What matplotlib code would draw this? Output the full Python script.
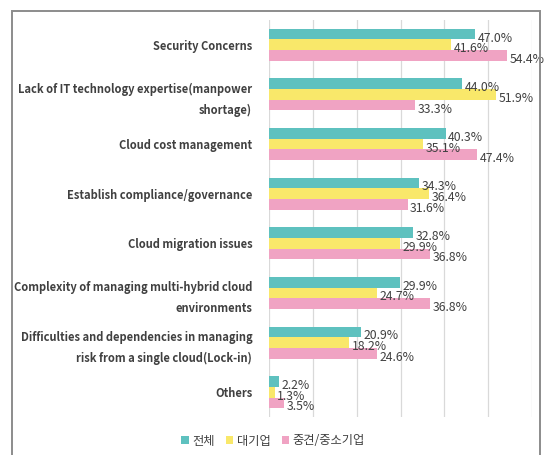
import matplotlib
matplotlib.use("Agg")
import matplotlib.pyplot as plt
import numpy as np
from matplotlib.patches import Rectangle

categories = [
    "Security Concerns",
    "Lack of IT technology expertise(manpower\nshortage)",
    "Cloud cost management",
    "Establish compliance/governance",
    "Cloud migration issues",
    "Complexity of managing multi-hybrid cloud\nenvironments",
    "Difficulties and dependencies in managing\nrisk from a single cloud(Lock-in)",
    "Others",
]
series_names = ["전체", "대기업", "중견/중소기업"]
total = [47.0, 44.0, 40.3, 34.3, 32.8, 29.9, 20.9, 2.2]
large = [41.6, 51.9, 35.1, 36.4, 29.9, 24.7, 18.2, 1.3]
sme = [54.4, 33.3, 47.4, 31.6, 36.8, 36.8, 24.6, 3.5]
colors = ["#5EC1BF", "#F9E86A", "#F0A3C3"]

plt.rcParams['font.family'] = ['Noto Sans CJK KR', 'DejaVu Sans']

fig = plt.figure(figsize=(5.46, 4.55), dpi=100)
ax = fig.add_axes([269/546, 1-417/455, (532-269)/546, (417-20)/455])

n = len(categories)
y = np.arange(n)
h = 0.215
for i, (vals, col) in enumerate(zip([total, large, sme], colors)):
    pos = y + (i - 1) * h
    ax.barh(pos, vals, height=h, color=col, label=series_names[i], zorder=3)
    for p, v in zip(pos, vals):
        ax.text(v + 0.6, p + 0.08, f"{v:.1f}%", va="center", ha="left",
                fontsize=8.8, color="#404040", zorder=4)

ax.set_xlim(0, 60)
ax.set_ylim(n - 0.5, -0.5)
ax.set_xticks(np.arange(0, 61, 10))
ax.set_xticklabels([])
ax.tick_params(axis="x", length=0)
ax.tick_params(axis="y", length=0, pad=12)
ax.set_yticks(y)
ax.set_yticklabels(categories, fontsize=8.0, fontweight="bold", color="#404040",
                   linespacing=1.75)
ax.grid(axis="x", color="#D9D9D9", linewidth=0.9, zorder=0)
for s in ax.spines.values():
    s.set_visible(False)

leg = fig.legend(loc="center", bbox_to_anchor=(0.5, 1-441/455), ncol=3,
                 frameon=False, fontsize=8.8, handlelength=0.6, handleheight=0.6,
                 handletextpad=0.3, columnspacing=0.9, labelcolor="#404040")

fig.patches.append(Rectangle((12/546, -0.05), (540-12)/546, 1-11/455+0.05,
                             transform=fig.transFigure, fill=False,
                             edgecolor="#8C8C8C", linewidth=1.4))

fig.savefig("out.png", dpi=100)
